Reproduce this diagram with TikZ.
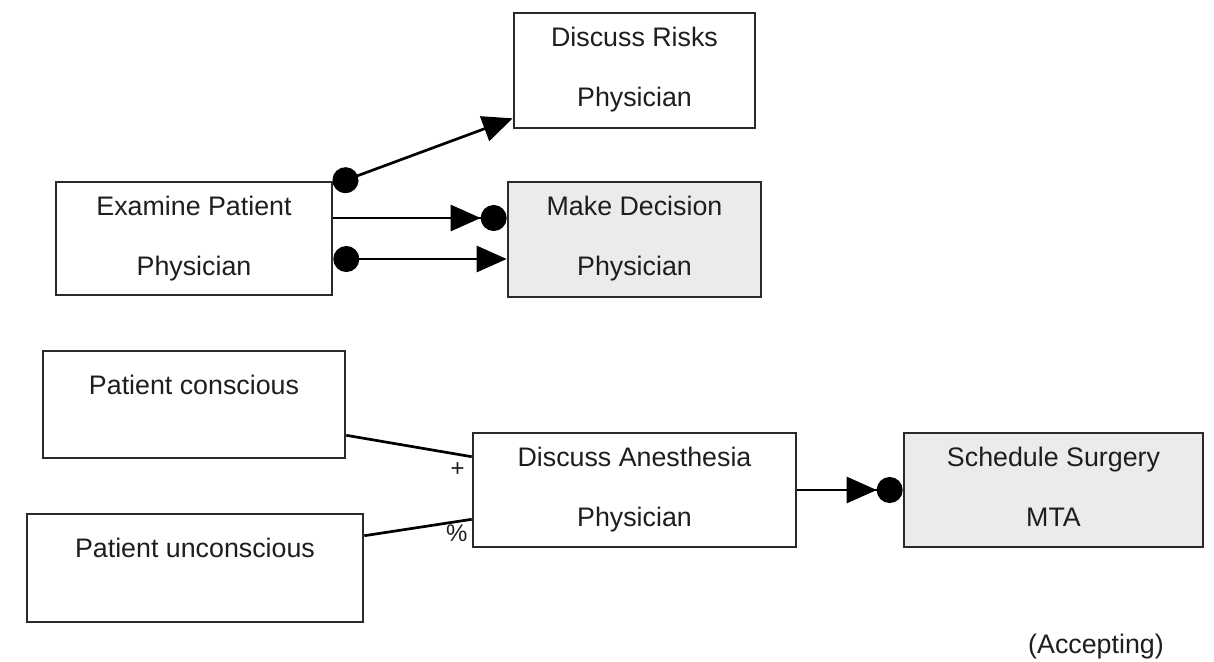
\documentclass[tikz,border=0pt]{standalone}
\usepackage{fontspec}
\setmainfont{Liberation Sans}
\usetikzlibrary{arrows.meta,calc,fit}
\definecolor{boxgray}{HTML}{EBEBEB}
\definecolor{edgecol}{HTML}{2A2A2A}
\definecolor{txtcol}{HTML}{1E1E1E}
\tikzset{
  box/.style={draw=edgecol, line width=1.3pt, rectangle, inner sep=0pt},
  act/.style={box, fill=white},
  chosen/.style={box, fill=boxgray},
  lbl/.style={anchor=base, inner sep=0pt, text=txtcol, font=\fontsize{13.4}{16}\selectfont},
  small/.style={inner sep=0pt, text=txtcol, font=\fontsize{12}{14}\selectfont},
  link/.style={line width=1.35pt, draw=black},
  dotstart/.style={{Circle[length=13pt]}-{Triangle[length=15pt,width=13pt]}},
  dotend/.style={-{Triangle[length=15pt,width=13pt]Circle[length=13pt]}},
}
\begin{document}
\begin{tikzpicture}[x=0.5pt,y=-0.5pt]
  \path[use as bounding box] (0,0) rectangle (1214,661);

  % activity boxes
  \node[act,    fit={(56,182) (332,295)}]  (ex) {};
  \node[act,    fit={(514,13) (755,128)}]  (dr) {};
  \node[chosen, fit={(508,182) (761,297)}] (md) {};
  \node[act,    fit={(43,351) (345,458)}]  (pc) {};
  \node[act,    fit={(27,514) (363,622)}]  (pu) {};
  \node[act,    fit={(473,433) (796,547)}] (da) {};
  \node[chosen, fit={(904,433) (1203,547)}] (ss) {};

  % box texts: activity name and role
  \node[lbl] at ($(dr.north)+(0,34.5)$) {Discuss Risks};
  \node[lbl] at ($(dr.north)+(0,94.5)$) {Physician};
  \node[lbl] at ($(ex.north)+(0,34.5)$) {Examine Patient};
  \node[lbl] at ($(ex.north)+(0,94.5)$) {Physician};
  \node[lbl] at ($(md.north)+(0,34.5)$) {Make Decision};
  \node[lbl] at ($(md.north)+(0,94.5)$) {Physician};
  \node[lbl] at ($(pc.north)+(0,45)$) {Patient conscious};
  \node[lbl] at ($(pu.north)+(0,45)$) {Patient unconscious};
  \node[lbl] at ($(da.north)+(0,34.5)$) {Discuss Anesthesia};
  \node[lbl] at ($(da.north)+(0,94.5)$) {Physician};
  \node[lbl] at ($(ss.north)+(0,34.5)$) {Schedule Surgery};
  \node[lbl] at ($(ss.north)+(0,94.5)$) {MTA};

  % connectors
  \draw[link, dotstart] ($(ex.north east)+(0,4)$) -- ($(dr.south west)+(0,-11)$);
  \coordinate (e1) at ($(ex.east)+(0,-20.5)$);
  \draw[link, dotend] (e1) -- (e1 -| md.west);
  \coordinate (e2) at ($(ex.east)+(0,20.5)$);
  \draw[link, dotstart] (e2) -- (e2 -| md.west);
  \draw[link, dotend] (da.east) -- (da.east -| ss.west);

  \draw[link] ($(pc.south east)+(0,-24)$) -- ($(da.north west)+(0,25)$);
  \draw[link] ($(pu.north east)+(0,23)$) -- ($(da.south west)+(0,-29)$);
  \node[small] at ($(da.north west)+(-14,38)$) {+};
  \node[small] at ($(da.south west)+(-15,-15)$) {\%};

  \node[inner sep=0pt, text=txtcol, font=\fontsize{13.4}{16}\selectfont] (acc) at (1096,647) {(Accepting)};
\end{tikzpicture}
\end{document}
